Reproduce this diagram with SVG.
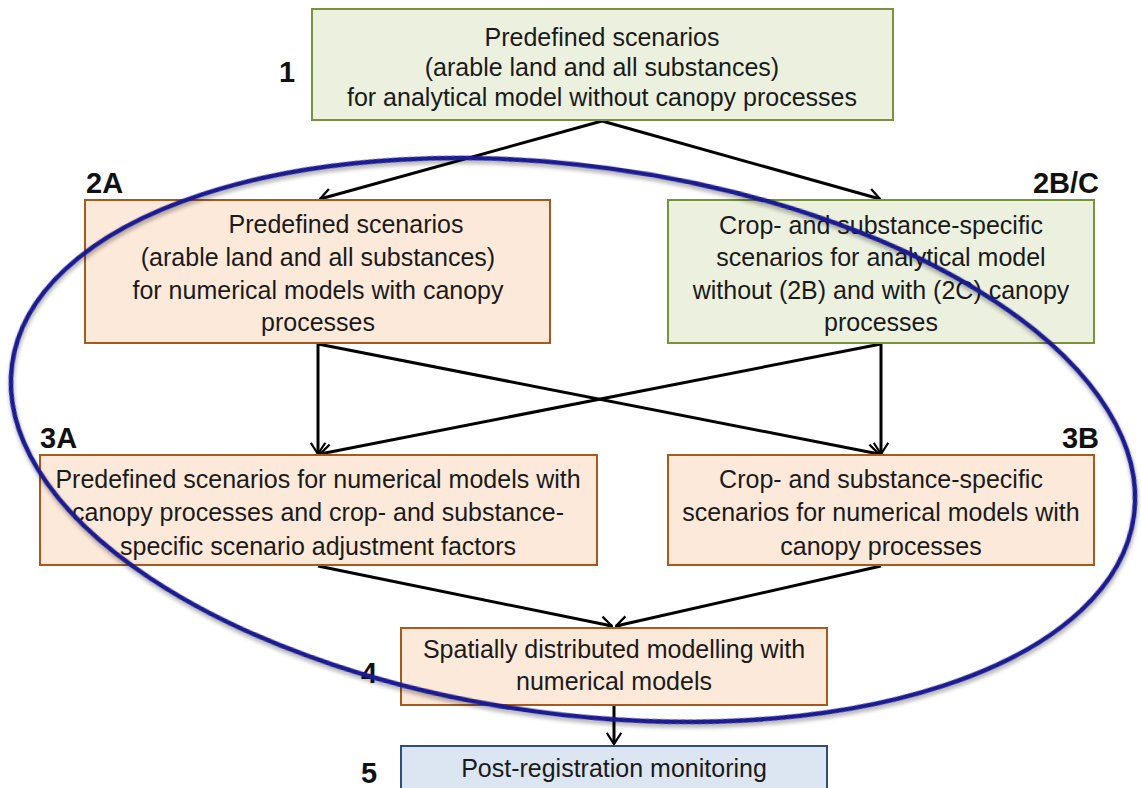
<svg xmlns="http://www.w3.org/2000/svg" width="1141" height="788" viewBox="0 0 1141 788">
<defs>
<style>
.t{font-family:"Liberation Sans",Arial,sans-serif;font-size:25px;fill:#1a1a1a;text-anchor:middle}
.lb{font-family:"Liberation Sans",Arial,sans-serif;font-size:29px;font-weight:bold;fill:#111}
.g{fill:#ebf1de;stroke:#77933c;stroke-width:2}
.o{fill:#fde9d9;stroke:#a85a1c;stroke-width:2}
.b{fill:#dce6f2;stroke:#2f4f7a;stroke-width:2}
.c{stroke:#000;stroke-width:3;fill:none;marker-end:url(#ah)}
</style>
<marker id="ah" viewBox="0 0 12 16" refX="11" refY="8" markerWidth="4.5" markerHeight="6" orient="auto" markerUnits="strokeWidth">
<polyline points="1,1.5 11,8 1,14.5" fill="none" stroke="#000" stroke-width="2" stroke-linejoin="miter"/>
</marker>
<filter id="sh" x="-5%" y="-5%" width="110%" height="115%">
<feGaussianBlur in="SourceAlpha" stdDeviation="2"/>
<feOffset dx="1" dy="3" result="o"/>
<feComponentTransfer><feFuncA type="linear" slope="0.35"/></feComponentTransfer>
<feMerge><feMergeNode/><feMergeNode in="SourceGraphic"/></feMerge>
</filter>
</defs>
<rect width="1141" height="788" fill="#fff"/>

<g id="connectors">
<line class="c" x1="602" y1="121" x2="320" y2="199"/>
<line class="c" x1="602" y1="121" x2="880" y2="199"/>
<line class="c" x1="318" y1="344" x2="318" y2="454"/>
<line class="c" x1="318" y1="344" x2="879" y2="454"/>
<line class="c" x1="881" y1="344" x2="881" y2="454"/>
<line class="c" x1="881" y1="344" x2="320" y2="454"/>
<line class="c" x1="318" y1="566" x2="612" y2="626"/>
<line class="c" x1="881" y1="566" x2="616" y2="626"/>
<line class="c" x1="614" y1="705" x2="614" y2="744"/>
</g>

<g id="n1">
<rect class="g" x="312" y="9" width="581" height="111"/>
<text class="t" x="602" y="46">Predefined scenarios</text>
<text class="t" x="602" y="76">(arable land and all substances)</text>
<text class="t" x="602" y="106">for analytical model without canopy processes</text>
<text class="lb" x="279" y="82">1</text>
</g>

<g id="n2A">
<rect class="o" x="85" y="200" width="465" height="143"/>
<text class="t" x="346" y="233">Predefined scenarios</text>
<text class="t" x="318" y="266">(arable land and all substances)</text>
<text class="t" x="318" y="299">for numerical models with canopy</text>
<text class="t" x="318" y="331">processes</text>
<text class="lb" x="86" y="193">2A</text>
</g>

<g id="n2BC">
<rect class="g" x="668" y="200" width="426" height="143"/>
<text class="t" x="881" y="234">Crop- and substance-specific</text>
<text class="t" x="881" y="266">scenarios for analytical model</text>
<text class="t" x="881" y="299">without (2B) and with (2C) canopy</text>
<text class="t" x="881" y="331">processes</text>
<text class="lb" x="1099" y="193" text-anchor="end">2B/C</text>
</g>

<g id="n3A">
<rect class="o" x="40" y="455" width="557" height="110"/>
<text class="t" x="318" y="488">Predefined scenarios for  numerical models with</text>
<text class="t" x="318" y="521">canopy processes and crop- and substance-</text>
<text class="t" x="318" y="555">specific scenario adjustment factors</text>
<text class="lb" x="40" y="448">3A</text>
</g>

<g id="n3B">
<rect class="o" x="668" y="455" width="426" height="110"/>
<text class="t" x="881" y="488">Crop- and substance-specific</text>
<text class="t" x="881" y="521">scenarios for numerical models with</text>
<text class="t" x="881" y="555">canopy processes</text>
<text class="lb" x="1099" y="448" text-anchor="end">3B</text>
</g>

<g id="n4">
<rect class="o" x="401" y="628" width="426" height="77"/>
<text class="t" x="614" y="658">Spatially distributed modelling with</text>
<text class="t" x="614" y="690">numerical models</text>
<text class="lb" x="361" y="683">4</text>
</g>

<g id="n5">
<rect class="b" x="401" y="746" width="426" height="60"/>
<text class="t" x="614" y="777">Post-registration monitoring</text>
<text class="lb" x="361" y="783">5</text>
</g>

<g id="outline">
<ellipse cx="573" cy="440" rx="566" ry="274" transform="rotate(7.7 573 440)" fill="none" stroke="#1a1a8f" stroke-width="4.5" filter="url(#sh)"/>
</g>
</svg>
